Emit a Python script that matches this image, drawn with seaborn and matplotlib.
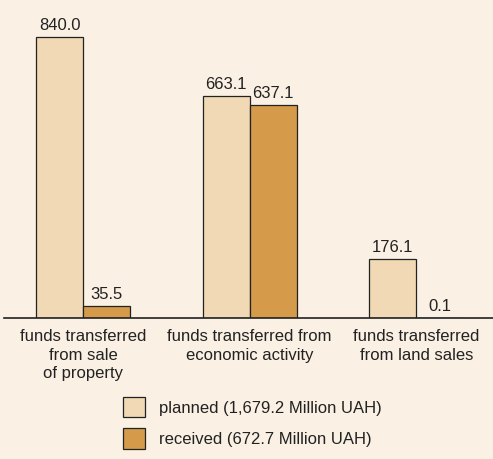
import seaborn as sns
import matplotlib.pyplot as plt
import pandas as pd
import numpy as np

# Datos
categories = ["funds transferred\nfrom sale\nof property",
              "funds transferred from\neconomic activity",
              "funds transferred\nfrom land sales"]
planned = [840.0, 663.1, 176.1]
received = [35.5, 637.1, 0.1]
series_names = ["planned (1,679.2 Million UAH)", "received (672.7 Million UAH)"]
colors = ["#F0D9B4", "#D59B4A"]
bg = "#FAF0E4"

df = pd.DataFrame({
    "category": categories * 2,
    "series": [series_names[0]] * 3 + [series_names[1]] * 3,
    "value": planned + received,
})

sns.set_theme(style="white")
plt.rcParams["font.family"] = ["Liberation Sans", "DejaVu Sans"]

fig = plt.figure(figsize=(4.93, 4.59), dpi=100, facecolor=bg)
ax = fig.add_axes([4 / 493, 141 / 459, 489 / 493, 318 / 459])
ax.set_facecolor(bg)

sns.barplot(data=df, x="category", y="value", hue="series",
            hue_order=series_names, palette=colors, width=0.565,
            edgecolor="#222222", linewidth=0.9, saturation=1, ax=ax)

for cont in ax.containers:
    ax.bar_label(cont, fmt="%.1f", padding=3, fontsize=12, color="#222222")

ax.set_xlim(-0.475, 2.46)
ax.set_ylim(0, 950)
ax.set_xlabel("")
ax.set_ylabel("")
ax.set_yticks([])
ax.tick_params(axis="x", length=0, pad=8, labelsize=12, labelcolor="#222222")
for lbl in ax.get_xticklabels():
    lbl.set_linespacing(1.3)
for s in ["left", "right", "top"]:
    ax.spines[s].set_visible(False)
ax.spines["bottom"].set_color("#222222")
ax.spines["bottom"].set_linewidth(1.2)

leg = ax.get_legend()
handles = leg.legend_handles
leg.remove()
fig.legend(handles, series_names, loc="upper left",
           bbox_to_anchor=(123 / 493, 1 - 397 / 459), frameon=False,
           fontsize=12, handlelength=1.3, handleheight=1.5,
           handletextpad=0.85, labelspacing=0.65, labelcolor="#222222",
           borderpad=0, borderaxespad=0)

fig.savefig("out.png", dpi=100, facecolor=bg)
